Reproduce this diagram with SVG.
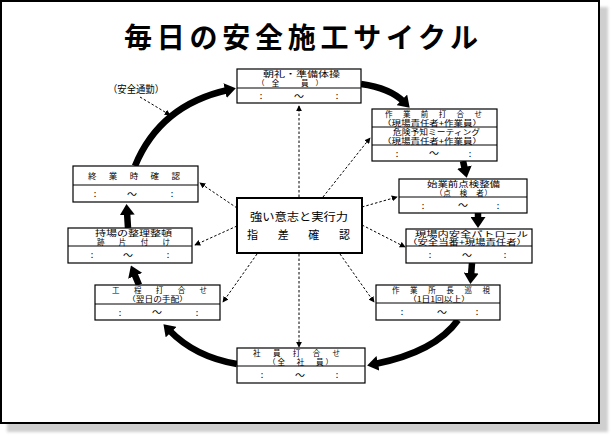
<svg xmlns="http://www.w3.org/2000/svg" width="614" height="438" viewBox="0 0 614 438">
<style>
text{font-family:"Noto Sans CJK JP","Noto Sans CJK SC",sans-serif;fill:#000}
.t{font-size:7.5px}
.s{font-size:8.5px}
.c{font-size:9px}
.w{font-size:10px}
.box{fill:#fff;stroke:#000;stroke-width:1.2}
.div{stroke:#000;stroke-width:1}
.thick{fill:none;stroke:#000;stroke-width:6.5;marker-end:url(#big)}
.dot{fill:none;stroke:#000;stroke-width:1;stroke-dasharray:2.5,2;marker-end:url(#small)}
</style>
<defs>
<marker id="big" viewBox="0 0 11 15" markerWidth="11" markerHeight="15" refX="3" refY="7.5" orient="auto" markerUnits="userSpaceOnUse"><path d="M0,0 L11,7.5 L0,15 z" fill="#000"/></marker>
<marker id="small" viewBox="0 0 8 8" markerWidth="6" markerHeight="6" refX="7" refY="4" orient="auto" markerUnits="userSpaceOnUse"><path d="M0,0 L8,4 L0,8 z" fill="#000"/></marker>
<filter id="blur" x="-5%" y="-5%" width="110%" height="110%"><feGaussianBlur stdDeviation="1.5"/></filter>
</defs>
<rect width="614" height="438" fill="#fff"/>
<rect x="7" y="7" width="601" height="425" fill="#cfcfcf" filter="url(#blur)"/>
<rect x="1" y="1" width="598" height="422" fill="#fff" stroke="#000" stroke-width="2"/>

<text x="124" y="48" font-size="28" font-weight="700" textLength="354" lengthAdjust="spacing">毎日の安全施工サイクル</text>

<g id="connectors">
<path class="thick" d="M135,166 Q160,105 228,90"/>
<path class="thick" d="M361,84 Q390,88 404,102"/>
<path class="thick" d="M463,161 L465,170"/>
<path class="thick" d="M478,213 L478,220"/>
<path class="thick" d="M472,263 L471,276"/>
<path class="thick" d="M458,320 Q435,352 375,364"/>
<path class="thick" d="M237,364 Q195,357 169,330"/>
<path class="thick" d="M139,285 L134,273"/>
<path class="thick" d="M128,228 L127,212"/>
<path class="dot" d="M299,197 L299,106"/>
<path class="dot" d="M323,197 L370,138"/>
<path class="dot" d="M362,207 L397,197"/>
<path class="dot" d="M362,225 L405,247"/>
<path class="dot" d="M340,254 L374,302"/>
<path class="dot" d="M299,254 L299,347"/>
<path class="dot" d="M257,254 L223,302"/>
<path class="dot" d="M237,226 L195,245"/>
<path class="dot" d="M237,208 L200,183"/>
<path class="dot" d="M140,97 L170,115"/>
</g>

<text x="108" y="93" font-size="10" textLength="56" lengthAdjust="spacingAndGlyphs">（安全通勤）</text>

<g id="center">
<rect x="237" y="198" width="125" height="55" fill="#fff" stroke="#000" stroke-width="2"/>
<text x="250" y="221" font-size="11" textLength="98" lengthAdjust="spacingAndGlyphs">強い意志と実行力</text>
<text x="247" y="239" font-size="11" textLength="103" lengthAdjust="spacing">指差確認</text>
</g>

<g id="box1">
<rect class="box" x="237" y="69" width="124" height="34"/>
<line class="div" x1="237" y1="88" x2="361" y2="88"/>
<text class="t" x="263" y="77" textLength="77" lengthAdjust="spacingAndGlyphs">朝礼・準備体操</text>
<text class="t" x="257" y="86" textLength="66" lengthAdjust="spacing">（全　員）</text>
<text class="c" x="261" y="99" text-anchor="middle">:</text>
<text class="w" x="299" y="99.5" text-anchor="middle">～</text>
<text class="c" x="337" y="99" text-anchor="middle">:</text>
</g>

<g id="box2">
<rect class="box" x="372" y="109" width="125" height="52"/>
<line class="div" x1="372" y1="127" x2="497" y2="127"/>
<line class="div" x1="372" y1="145" x2="497" y2="145"/>
<text class="t" x="385" y="116.5" textLength="97" lengthAdjust="spacing">作業前打合せ</text>
<text class="t" x="382" y="125.5" textLength="100" lengthAdjust="spacingAndGlyphs">（現場責任者+作業員）</text>
<text class="t" x="393" y="134.5" textLength="87" lengthAdjust="spacingAndGlyphs">危険予知ミーティング</text>
<text class="t" x="382" y="143.5" textLength="100" lengthAdjust="spacingAndGlyphs">（現場責任者+作業員）</text>
<text class="c" x="397" y="156.5" text-anchor="middle">:</text>
<text class="w" x="434" y="157" text-anchor="middle">～</text>
<text class="c" x="470" y="156.5" text-anchor="middle">:</text>
</g>

<g id="box3">
<rect class="box" x="399" y="179" width="128" height="34"/>
<line class="div" x1="399" y1="197" x2="527" y2="197"/>
<text class="t" x="427" y="187" textLength="73" lengthAdjust="spacingAndGlyphs">始業前点検整備</text>
<text class="t" x="435" y="195.5" textLength="57" lengthAdjust="spacing">（点　検　者）</text>
<text class="c" x="423" y="208.5" text-anchor="middle">:</text>
<text class="w" x="463" y="209" text-anchor="middle">～</text>
<text class="c" x="498" y="208.5" text-anchor="middle">:</text>
</g>

<g id="box4">
<rect class="box" x="406" y="229" width="126" height="34"/>
<line class="div" x1="406" y1="246" x2="532" y2="246"/>
<text class="t" x="415" y="236.5" textLength="113" lengthAdjust="spacingAndGlyphs">現場内安全パトロール</text>
<text class="t" x="407" y="245" textLength="120" lengthAdjust="spacingAndGlyphs">（安全当番+現場責任者）</text>
<text class="c" x="430" y="258" text-anchor="middle">:</text>
<text class="w" x="467" y="258.5" text-anchor="middle">～</text>
<text class="c" x="505" y="258" text-anchor="middle">:</text>
</g>

<g id="box5">
<rect class="box" x="376" y="285" width="124" height="35"/>
<line class="div" x1="376" y1="303" x2="500" y2="303"/>
<text class="t" x="392" y="292.5" textLength="98" lengthAdjust="spacing">作業所長巡視</text>
<text class="t" x="408" y="301.5" textLength="62" lengthAdjust="spacingAndGlyphs">（1日1回以上）</text>
<text class="c" x="402" y="315" text-anchor="middle">:</text>
<text class="w" x="442" y="315.5" text-anchor="middle">～</text>
<text class="c" x="477" y="315" text-anchor="middle">:</text>
</g>

<g id="box6">
<rect class="box" x="237" y="348" width="128" height="35"/>
<line class="div" x1="237" y1="366" x2="365" y2="366"/>
<text class="t" x="253" y="355.5" textLength="87" lengthAdjust="spacing">社員打合せ</text>
<text class="t" x="268" y="364.5" textLength="65" lengthAdjust="spacing">（全　社　員）</text>
<text class="c" x="262" y="378" text-anchor="middle">:</text>
<text class="w" x="300" y="378.5" text-anchor="middle">～</text>
<text class="c" x="337" y="378" text-anchor="middle">:</text>
</g>

<g id="box7">
<rect class="box" x="95" y="285" width="125" height="35"/>
<line class="div" x1="95" y1="304" x2="220" y2="304"/>
<text class="t" x="112" y="293" textLength="95" lengthAdjust="spacing">工程打合せ</text>
<text class="t" x="127" y="302" textLength="61" lengthAdjust="spacingAndGlyphs">（翌日の手配）</text>
<text class="c" x="120" y="315.5" text-anchor="middle">:</text>
<text class="w" x="157" y="316" text-anchor="middle">～</text>
<text class="c" x="197" y="315.5" text-anchor="middle">:</text>
</g>

<g id="box8">
<rect class="box" x="68" y="228" width="124" height="35"/>
<line class="div" x1="68" y1="246" x2="192" y2="246"/>
<text class="t" x="95" y="235.5" textLength="77" lengthAdjust="spacingAndGlyphs">持場の整理整頓</text>
<text class="t" x="97" y="244.5" textLength="73" lengthAdjust="spacing">跡片付け</text>
<text class="c" x="92" y="258" text-anchor="middle">:</text>
<text class="w" x="128" y="258.5" text-anchor="middle">～</text>
<text class="c" x="168" y="258" text-anchor="middle">:</text>
</g>

<g id="box9">
<rect class="box" x="73" y="166" width="125" height="36"/>
<line class="div" x1="73" y1="185" x2="198" y2="185"/>
<text class="s" x="88" y="179" textLength="92" lengthAdjust="spacing">終業時確認</text>
<text class="c" x="95" y="197" text-anchor="middle">:</text>
<text class="w" x="132" y="197.5" text-anchor="middle">～</text>
<text class="c" x="172" y="197" text-anchor="middle">:</text>
</g>
</svg>
